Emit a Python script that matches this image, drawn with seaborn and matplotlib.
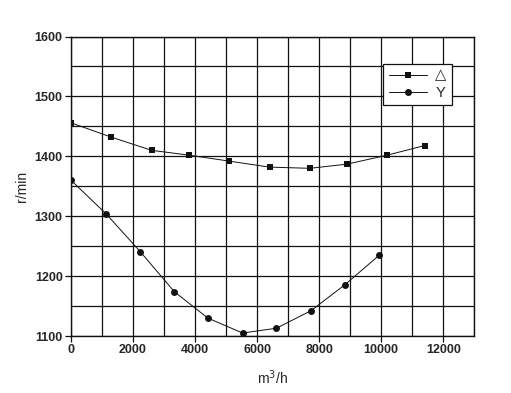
import matplotlib
matplotlib.use("Agg")
import matplotlib.pyplot as plt
import seaborn as sns
import pandas as pd

# flow rate (m3/h) and speed (r/min)
delta_flow = [0, 1300, 2600, 3800, 5100, 6400, 7700, 8900, 10200, 11400]
delta_speed = [1456, 1432, 1410, 1402, 1392, 1382, 1380, 1387, 1402, 1418]

star_flow = [0, 1130, 2230, 3330, 4410, 5530, 6620, 7730, 8840, 9940]
star_speed = [1360, 1304, 1241, 1174, 1130, 1105, 1113, 1142, 1186, 1235]

x_ticks = [0, 2000, 4000, 6000, 8000, 10000, 12000]
y_ticks = [1100, 1200, 1300, 1400, 1500, 1600]

df = pd.concat([
    pd.DataFrame({"flow": delta_flow, "speed": delta_speed, "conn": "△"}),
    pd.DataFrame({"flow": star_flow, "speed": star_speed, "conn": "Y"}),
])

sns.set_style("ticks")
plt.rcParams["font.family"] = ["Liberation Sans", "DejaVu Sans"]

fig = plt.figure(figsize=(5.11, 3.93), dpi=100)
ax = fig.add_axes([0.139, 0.145, 0.789, 0.762])

sns.lineplot(data=df, x="flow", y="speed", hue="conn", style="conn",
             markers={"△": "s", "Y": "o"}, dashes=False,
             palette={"△": "#111111", "Y": "#111111"},
             markersize=5, linewidth=0.7, markeredgewidth=0,
             sort=False, ax=ax)

ax.set_xlim(0, 13000)
ax.set_ylim(1100, 1600)
ax.set_xticks(x_ticks)
ax.set_yticks(y_ticks)
ax.set_xticks(range(0, 13001, 1000), minor=True)
ax.set_yticks(range(1100, 1601, 50), minor=True)
ax.grid(which="both", color="#111111", linewidth=0.9)
ax.tick_params(which="major", direction="out", length=4, width=0.9,
               labelsize=9, color="#111111", pad=2)
ax.tick_params(which="minor", length=0)
for lab in ax.get_xticklabels() + ax.get_yticklabels():
    lab.set_fontweight("bold")
for sp in ax.spines.values():
    sp.set_visible(True)
    sp.set_color("#111111")
    sp.set_linewidth(1.0)

ax.set_xlabel("m$^3$/h", fontsize=10, labelpad=9)
ax.set_ylabel("r/min", fontsize=10, labelpad=4)

leg = ax.legend(loc="upper left", bbox_to_anchor=(0.775, 0.91), fontsize=10.5,
                frameon=True, fancybox=False, edgecolor="#111111",
                handlelength=2.6, handletextpad=0.6, borderpad=0.35,
                labelspacing=0.25, borderaxespad=0, framealpha=1)
leg.get_frame().set_linewidth(0.9)

fig.savefig("out.png", dpi=100)
